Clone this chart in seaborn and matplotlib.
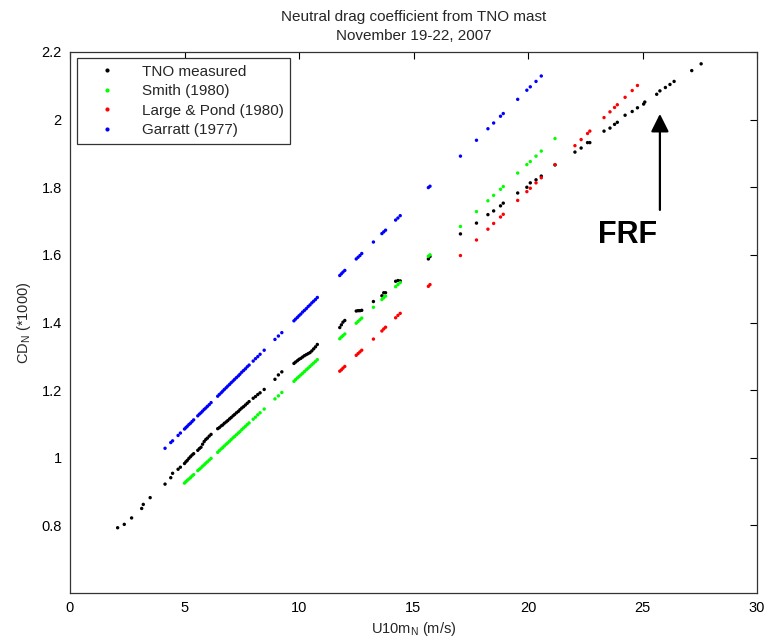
import pandas as pd
import seaborn as sns
import matplotlib.pyplot as plt

# wind speeds (m/s), TNO measured
tno_u = [2.08, 2.37, 2.69, 3.13, 3.20, 3.50,
         4.15, 4.40, 4.48, 4.72, 4.82,
         5.00, 5.06, 5.12, 5.19, 5.26, 5.33, 5.40,
         5.58, 5.65, 5.72, 5.79, 5.86, 5.93, 6.00, 6.08, 6.16,
         6.45, 6.52, 6.60, 6.67, 6.74, 6.82, 6.89, 6.97, 7.04, 7.12, 7.19, 7.27, 7.35, 7.42, 7.50, 7.58, 7.66, 7.74, 7.82,
         8.00, 8.10, 8.20, 8.30, 8.48,
         8.95, 9.10, 9.25,
         9.78, 9.85, 9.93, 10.00, 10.08, 10.16, 10.24, 10.32, 10.40, 10.48, 10.56, 10.64, 10.72, 10.80,
         11.78, 11.85, 11.92, 12.00,
         12.50, 12.58, 12.66, 12.74,
         13.25, 13.62, 13.70, 13.78,
         14.22, 14.32, 14.42,
         15.65, 15.72,
         17.05, 17.75, 18.25, 18.50, 18.80, 18.92, 19.55, 19.95, 20.10, 20.35, 20.58,
         21.18,
         22.05, 22.32, 22.60, 22.70, 23.32, 23.58, 23.78, 23.90, 24.24, 24.55, 24.78,
         25.05, 25.10, 25.62, 25.76, 26.00, 26.20, 26.38, 27.15, 27.56]
tno_cd = [0.793, 0.803, 0.822, 0.850, 0.862, 0.882,
          0.922, 0.941, 0.954, 0.966, 0.972,
          0.983, 0.988, 0.992, 0.998, 1.003, 1.008, 1.012,
          1.022, 1.027, 1.031, 1.040, 1.048, 1.054, 1.058, 1.064, 1.069,
          1.086, 1.089, 1.094, 1.097, 1.102, 1.106, 1.110, 1.115, 1.119, 1.124, 1.128, 1.133, 1.137, 1.142, 1.147, 1.151, 1.156, 1.161, 1.166,
          1.176, 1.181, 1.187, 1.192, 1.202,
          1.232, 1.245, 1.254,
          1.279, 1.283, 1.287, 1.291, 1.294, 1.298, 1.302, 1.305, 1.308, 1.311, 1.316, 1.322, 1.328, 1.335,
          1.385, 1.393, 1.401, 1.406,
          1.434, 1.435, 1.435, 1.436,
          1.462, 1.479, 1.488, 1.488,
          1.522, 1.524, 1.523,
          1.588, 1.595,
          1.662, 1.694, 1.719, 1.730, 1.745, 1.753, 1.783, 1.800, 1.813, 1.822, 1.833,
          1.866,
          1.904, 1.916, 1.932, 1.932, 1.966, 1.975, 1.986, 1.992, 2.013, 2.024, 2.035,
          2.046, 2.052, 2.075, 2.085, 2.095, 2.104, 2.113, 2.145, 2.165]

# model curves, same wind speeds within each formula's range
smith_u = [u for u in tno_u if 5.0 <= u <= 21.2]
smith_cd = [0.925, 0.929, 0.933, 0.937, 0.941, 0.946, 0.950,
            0.962, 0.966, 0.970, 0.975, 0.979, 0.984, 0.988, 0.993, 0.998,
            1.016, 1.021, 1.026, 1.030, 1.035, 1.040, 1.044, 1.049, 1.054, 1.059, 1.063, 1.068, 1.073, 1.077, 1.083, 1.088, 1.093, 1.098, 1.103,
            1.114, 1.120, 1.127, 1.133, 1.144,
            1.174, 1.183, 1.193,
            1.226, 1.231, 1.236, 1.240, 1.245, 1.250, 1.255, 1.260, 1.265, 1.270, 1.275, 1.280, 1.285, 1.290,
            1.352, 1.357, 1.361, 1.366,
            1.398, 1.403, 1.408, 1.413,
            1.445, 1.468, 1.473, 1.478,
            1.506, 1.512, 1.518,
            1.596, 1.600,
            1.684, 1.728, 1.760, 1.776, 1.794, 1.802, 1.842, 1.867, 1.876, 1.892, 1.907,
            1.944]

lp_u = [u for u in tno_u if 11.0 <= u <= 25.0]
lp_cd = [1.256, 1.260, 1.265, 1.270,
         1.303, 1.308, 1.313, 1.318,
         1.351, 1.375, 1.381, 1.386,
         1.414, 1.421, 1.427,
         1.507, 1.512,
         1.598, 1.644, 1.676, 1.693, 1.712, 1.720, 1.761, 1.787, 1.797, 1.813, 1.828,
         1.867,
         1.923, 1.941, 1.959, 1.966, 2.006, 2.023, 2.036, 2.044, 2.066, 2.086, 2.101]

garratt_u = [u for u in tno_u if 4.0 <= u <= 21.0]
garratt_cd = [1.028, 1.045, 1.050, 1.066, 1.073,
              1.085, 1.089, 1.093, 1.098, 1.102, 1.107, 1.112,
              1.124, 1.129, 1.133, 1.138, 1.143, 1.147, 1.152, 1.157, 1.163,
              1.182, 1.187, 1.192, 1.197, 1.202, 1.207, 1.212, 1.217, 1.222, 1.227, 1.232, 1.237, 1.242, 1.247, 1.253, 1.258, 1.263, 1.269, 1.274,
              1.286, 1.293, 1.299, 1.306, 1.318,
              1.350, 1.360, 1.370,
              1.405, 1.410, 1.415, 1.420, 1.425, 1.431, 1.436, 1.441, 1.447, 1.452, 1.458, 1.463, 1.468, 1.474,
              1.539, 1.544, 1.549, 1.554,
              1.588, 1.593, 1.598, 1.604,
              1.638, 1.663, 1.668, 1.673,
              1.703, 1.709, 1.716,
              1.799, 1.803,
              1.892, 1.939, 1.973, 1.990, 2.010, 2.018, 2.060, 2.087, 2.097, 2.113, 2.129]

names = ["TNO measured", "Smith (1980)", "Large & Pond (1980)", "Garratt (1977)"]
colors = ["black", "#00ff00", "#ff0000", "#0000ff"]

frames = []
for name, u, cd in zip(names, [tno_u, smith_u, lp_u, garratt_u],
                       [tno_cd, smith_cd, lp_cd, garratt_cd]):
    frames.append(pd.DataFrame({"U10mN": u, "CDN": cd, "series": name}))
df = pd.concat(frames, ignore_index=True)

sns.set_style("white")
plt.rcParams["font.family"] = ["Liberation Sans", "DejaVu Sans"]

fig = plt.figure(figsize=(7.66, 6.41), dpi=100)
ax = fig.add_axes([70 / 766, 1 - 593 / 641, 687 / 766, 541 / 641])

sns.scatterplot(data=df, x="U10mN", y="CDN", hue="series", hue_order=names,
                palette=dict(zip(names, colors)), s=6, linewidth=0, ax=ax)

ax.set_xlim(0, 30)
ax.set_ylim(0.6, 2.2)
ax.set_xticks([0, 5, 10, 15, 20, 25, 30])
ax.set_yticks([0.8, 1.0, 1.2, 1.4, 1.6, 1.8, 2.0, 2.2])
ax.set_yticklabels(["0.8", "1", "1.2", "1.4", "1.6", "1.8", "2", "2.2"])
ax.tick_params(direction="in", length=5, width=0.8, top=True, right=True,
               labelsize=10.5, colors="black", pad=6)
for sp in ax.spines.values():
    sp.set_color("#333333")
    sp.set_linewidth(0.9)

ax.set_xlabel(r"U10m$_\mathregular{N}$ (m/s)", fontsize=10.5, labelpad=3)
ax.set_ylabel(r"CD$_\mathregular{N}$ (*1000)", fontsize=10.5, labelpad=6)
ax.set_title("Neutral drag coefficient from TNO mast\nNovember 19-22, 2007",
             fontsize=11, pad=9, linespacing=1.45)

leg = ax.legend(loc="upper left", bbox_to_anchor=(0.0098, 0.989), borderaxespad=0,
                fontsize=11, frameon=True, fancybox=False, edgecolor="#333333",
                framealpha=1, handlelength=3.0, handletextpad=0.8,
                labelspacing=0.35, borderpad=0.45)
leg.get_frame().set_linewidth(0.9)
for h in leg.legend_handles:
    h.set_markersize(3)

ax.annotate("", xy=(25.76, 2.017), xytext=(25.76, 1.733),
            arrowprops=dict(arrowstyle="-|>,head_length=0.4,head_width=0.2",
                            mutation_scale=27, lw=1.6, color="black",
                            shrinkA=0, shrinkB=0))
ax.text(24.35, 1.659, "FRF", fontsize=22, fontweight="bold",
        ha="center", va="center", color="black")

fig.savefig("out.png", dpi=100)
